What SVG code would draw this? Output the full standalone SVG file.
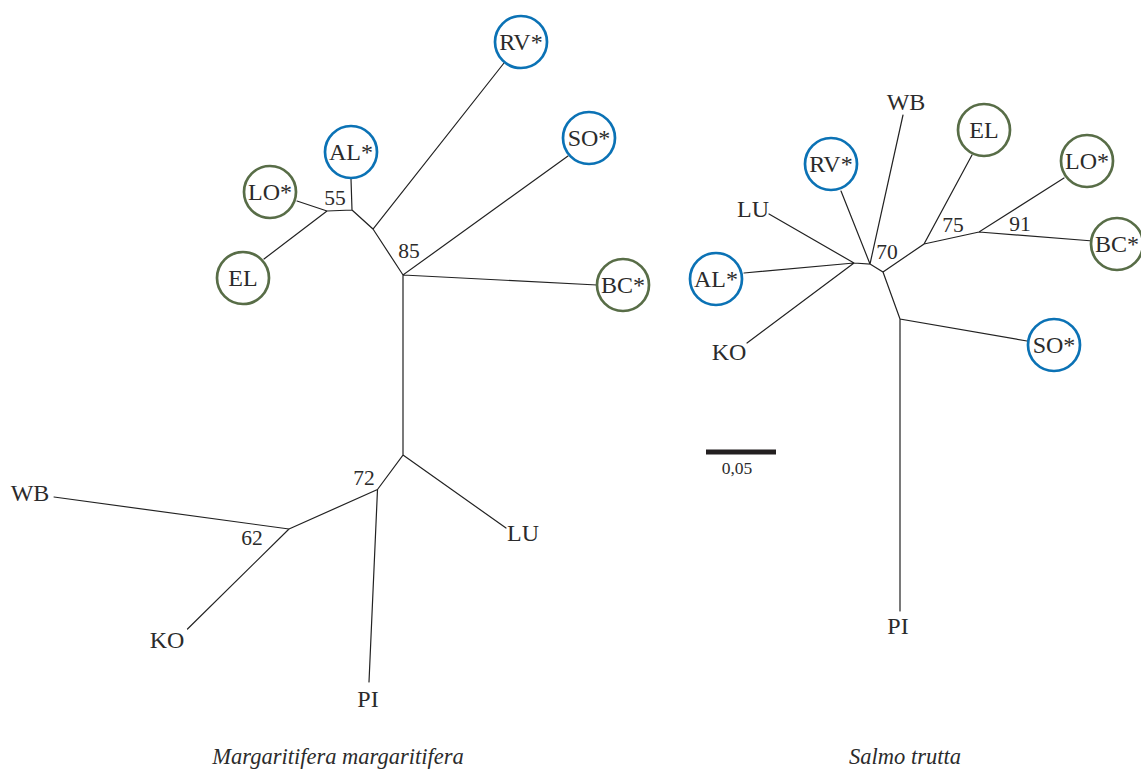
<svg xmlns="http://www.w3.org/2000/svg" width="1141" height="769" viewBox="0 0 1141 769">
<style>
.e{stroke:#222;stroke-width:1.2;fill:none;stroke-linecap:round}
.t{font-family:"Liberation Serif","DejaVu Serif",serif;font-size:24px;fill:#2b2b2b;text-anchor:middle}
.n{font-family:"Liberation Serif","DejaVu Serif",serif;font-size:21.5px;fill:#2b2b2b;text-anchor:middle}
.c{font-family:"Liberation Serif","DejaVu Serif",serif;font-size:22.5px;font-style:italic;fill:#2b2b2b;text-anchor:middle}
.b{fill:#fff;stroke:#0b72b5;stroke-width:2.7}
.g{fill:#fff;stroke:#586d47;stroke-width:2.7}
</style>
<rect width="1141" height="769" fill="#fff"/>
<g id="connectors">
<path class="e" d="M327,211 L297,201 M327,211 L264,259 M327,211 L352,210 L351,179 M352,210 L373,229 L504,63 M373,229 L403,275 L568,156 M403,275 L597,285 M403,275 L403,455 L377.5,489.5 M403,455 L506,528 M377.5,489.5 L289,529 M377.5,489.5 L369,682 M289,529 L54,497 M289,529 L187.5,629"/>
<path class="e" d="M854,263 L769,214 M854,263 L744,273 M854,263 L747,343 M854,263 L870,264 L841,191 M870,264 L903,115 M870,264 L883,272 L924,244 L972,155 M924,244 L979,232 L1064,178 M979,232 L1093,241 M883,272 L900,319 L1027,341 M900,319 L900,611"/>
</g>
<g id="L-RV"><circle class="b" cx="521" cy="42" r="26"/><text class="t" x="521" y="50">RV*</text></g>
<g id="L-SO"><circle class="b" cx="589" cy="138" r="26"/><text class="t" x="589" y="146">SO*</text></g>
<g id="L-AL"><circle class="b" cx="351" cy="152" r="26"/><text class="t" x="351" y="160">AL*</text></g>
<g id="L-LO"><circle class="g" cx="270" cy="192" r="26"/><text class="t" x="270" y="200">LO*</text></g>
<g id="L-EL"><circle class="g" cx="243" cy="278" r="26"/><text class="t" x="243" y="286">EL</text></g>
<g id="L-BC"><circle class="g" cx="623" cy="285" r="26"/><text class="t" x="623" y="293">BC*</text></g>
<g id="L-WB"><text class="t" x="30" y="501">WB</text></g>
<g id="L-KO"><text class="t" x="167" y="648">KO</text></g>
<g id="L-PI"><text class="t" x="368" y="707">PI</text></g>
<g id="L-LU"><text class="t" x="523" y="541">LU</text></g>
<g id="L-support"><text class="n" x="335" y="205">55</text><text class="n" x="409" y="258">85</text><text class="n" x="364" y="485">72</text><text class="n" x="252" y="545">62</text></g>
<g id="R-WB"><text class="t" x="906" y="110">WB</text></g>
<g id="R-EL"><circle class="g" cx="984" cy="130" r="26"/><text class="t" x="984" y="138">EL</text></g>
<g id="R-LO"><circle class="g" cx="1087" cy="161" r="26"/><text class="t" x="1087" y="169">LO*</text></g>
<g id="R-BC"><circle class="g" cx="1117" cy="244" r="26"/><text class="t" x="1117" y="252">BC*</text></g>
<g id="R-RV"><circle class="b" cx="831" cy="164" r="26"/><text class="t" x="831" y="172">RV*</text></g>
<g id="R-LU"><text class="t" x="753" y="217">LU</text></g>
<g id="R-AL"><circle class="b" cx="716" cy="279" r="26"/><text class="t" x="716" y="287">AL*</text></g>
<g id="R-KO"><text class="t" x="729" y="360">KO</text></g>
<g id="R-SO"><circle class="b" cx="1054" cy="345" r="26"/><text class="t" x="1054" y="353">SO*</text></g>
<g id="R-PI"><text class="t" x="898" y="634">PI</text></g>
<g id="R-support"><text class="n" x="887" y="259">70</text><text class="n" x="953" y="232">75</text><text class="n" x="1020" y="231">91</text></g>
<g id="scale"><rect x="706" y="449.5" width="70" height="5" fill="#231f20"/><text class="n" style="font-size:17.5px" x="737" y="474">0,05</text></g>
<g id="captions"><text class="c" x="338" y="764">Margaritifera margaritifera</text><text class="c" x="905" y="764">Salmo trutta</text></g>
</svg>
